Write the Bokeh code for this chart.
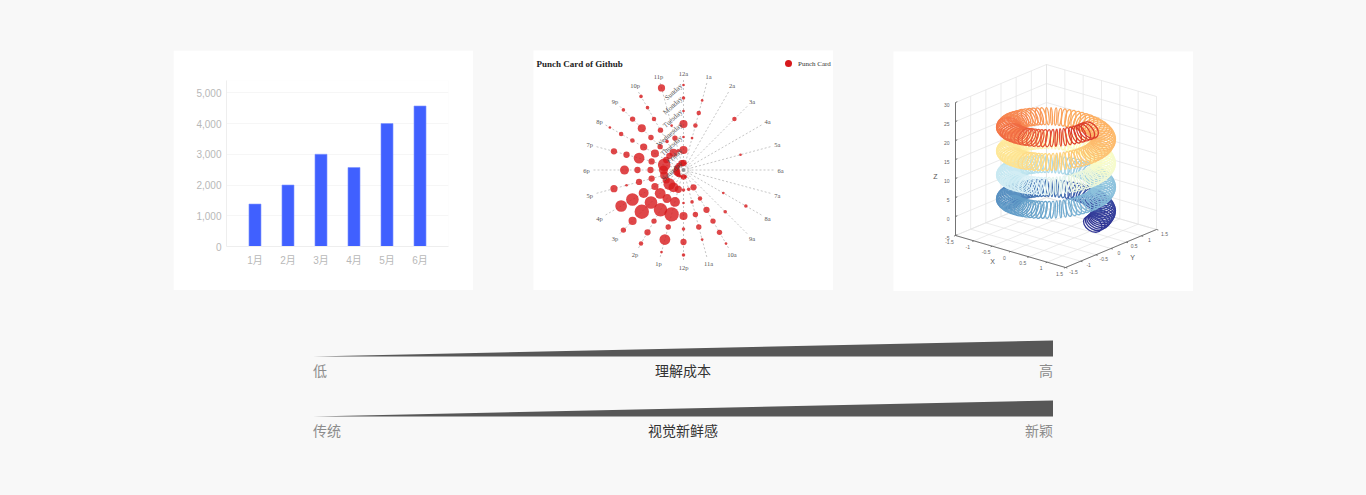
import math
from bokeh.plotting import figure
from bokeh.layouts import column, row
from bokeh.models import Spacer, Range1d, FixedTicker, NumeralTickFormatter, FactorRange
from bokeh.core.properties import value
from bokeh.embed import file_html
from bokeh.resources import INLINE

# ---------- bar chart ----------
months = ["1月", "2月", "3月", "4月", "5月", "6月"]
sales = [1380, 2000, 3000, 2570, 4000, 4570]
sales_ticks = [0, 1000, 2000, 3000, 4000, 5000]

# ---------- punch card ----------
hours = ["12a", "1a", "2a", "3a", "4a", "5a", "6a", "7a", "8a", "9a", "10a", "11a",
         "12p", "1p", "2p", "3p", "4p", "5p", "6p", "7p", "8p", "9p", "10p", "11p"]
days = ["Saturday", "Friday", "Thursday", "Wednesday", "Tuesday", "Monday", "Sunday"]
saturday = [5, 1, 0, 0, 0, 0, 0, 0, 0, 0, 0, 2, 4, 1, 1, 3, 4, 6, 4, 4, 3, 3, 2, 5]
friday = [7, 0, 0, 0, 0, 0, 0, 0, 0, 0, 5, 2, 2, 6, 9, 11, 6, 7, 8, 12, 5, 5, 7, 2]
thursday = [1, 1, 0, 0, 0, 0, 0, 0, 0, 0, 3, 2, 1, 9, 8, 10, 6, 5, 5, 5, 7, 4, 2, 4]
wednesday = [7, 3, 0, 0, 0, 0, 0, 0, 1, 0, 5, 4, 7, 14, 13, 12, 9, 5, 5, 10, 6, 4, 4, 1]
tuesday = [1, 3, 0, 0, 0, 1, 0, 0, 0, 2, 4, 4, 2, 4, 4, 14, 12, 1, 8, 5, 3, 7, 3, 0]
monday = [2, 1, 0, 3, 0, 0, 0, 0, 2, 0, 4, 1, 5, 10, 5, 7, 11, 6, 0, 5, 3, 4, 2, 0]
sunday = [1, 0, 0, 0, 0, 0, 0, 0, 0, 0, 1, 0, 2, 1, 3, 4, 0, 0, 0, 0, 1, 2, 2, 6]
punch = [saturday, friday, thursday, wednesday, tuesday, monday, sunday]

# ---------- 3D spring: axes ----------
xy_ticks = [-1.5, -1, -0.5, 0, 0.5, 1, 1.5]
xy_labels = ["-1.5", "-1", "-0.5", "0", "0.5", "1", "1.5"]
z_ticks = [-5, 0, 5, 10, 15, 20, 25, 30]

# Coil centres (one turn of the spring, in page pixels)
coil_x = [1092.2, 1094.7, 1096.9, 1098.8, 1100.3, 1101.6, 1102.4, 1102.9, 1103.1, 1102.9, 1102.3, 1101.4,
          1100.1, 1098.5, 1096.6, 1094.3, 1091.7, 1088.9, 1085.8, 1082.5, 1079.0, 1075.3, 1071.5, 1067.5,
          1063.4, 1059.3, 1055.2, 1051.0, 1046.9, 1042.9, 1038.9, 1035.1, 1031.4, 1027.9, 1024.7, 1021.6,
          1018.8, 1016.3, 1014.1, 1012.2, 1010.7, 1009.4, 1008.6, 1008.1, 1007.9, 1008.1, 1008.7, 1009.6,
          1010.9, 1012.5, 1014.4, 1016.7, 1019.3, 1022.1, 1025.2, 1028.5, 1032.0, 1035.7, 1039.5, 1043.5,
          1047.6, 1051.7, 1055.8, 1060.0, 1064.1, 1068.1, 1072.1, 1075.9, 1079.6, 1083.1, 1086.3, 1089.4]
coil_y = [223.7, 222.2, 220.6, 219.0, 217.4, 215.6, 213.9, 212.2, 210.3, 208.6, 206.9, 205.0,
          203.4, 201.7, 200.0, 198.5, 197.1, 195.7, 194.3, 193.2, 192.0, 191.0, 190.1, 189.4,
          188.7, 188.2, 187.8, 187.5, 187.4, 187.4, 187.5, 187.7, 188.1, 188.5, 189.0, 189.7,
          190.4, 191.2, 192.1, 193.1, 194.0, 195.1, 196.2, 197.2, 198.4, 199.5, 200.5, 201.7,
          202.7, 203.8, 204.7, 205.6, 206.4, 207.1, 207.8, 208.3, 208.7, 209.1, 209.4, 209.4,
          209.4, 209.3, 209.0, 208.6, 208.1, 207.4, 206.7, 205.8, 204.8, 203.6, 202.5, 201.2]
# Apparent size and tilt of a coil, half a turn (the other half looks the same)
coil_w = [20.2, 21.0, 21.9, 22.4, 22.8, 23.2, 23.5, 23.7, 23.8, 23.8, 23.4, 23.0,
          22.5, 22.0, 21.3, 20.7, 20.1, 19.4, 18.8, 18.4, 18.0, 17.7, 17.5, 17.4,
          17.3, 17.3, 17.3, 17.3, 17.3, 17.4, 17.6, 17.8, 18.1, 18.6, 19.1, 19.6]
coil_h = [13.9, 14.2, 14.6, 14.8, 15.0, 15.0, 15.1, 15.2, 15.2, 15.2, 15.1, 15.0,
          15.0, 14.9, 14.6, 14.2, 13.7, 13.0, 12.4, 11.2, 9.8, 8.2, 6.8, 5.5,
          4.4, 3.3, 2.3, 1.9, 3.0, 4.8, 6.6, 8.5, 10.2, 11.5, 12.5, 13.3]
coil_tilt = [34, 29, 23, 18, 13, 8, 6, 3, 0, -3, -7, -11,
             -14, -18, -24, -30, -37, -44, -51, -57, -64, -70, -75, -79,
             -82, -84, -87, 87, 83, 78, 73, 69, 63, 57, 49, 42]
# How far each turn sits above the first, and its colours around the turn
turn_rise = [0, 23.9, 47.8, 71.7]
turn_colors = [
    ["#313695", "#353f9b", "#3a4fa3", "#3e5fab", "#4270b1", "#4575b4",
     "#4f85bc", "#5a92c2", "#639dc8", "#6ba5cc", "#72abd0", "#7eb5d6"],
    ["#84bad9", "#8dc2dd", "#97cbe0", "#a1d1e4", "#abd9e9", "#b5dfec",
     "#bfe5ef", "#c9e9f2", "#d2edf4", "#dcf1f7", "#e3f4ee", "#eaf6df"],
    ["#f0f8d6", "#f6fbcc", "#fbfdc3", "#ffffbf", "#fff9b6", "#fff3ac",
     "#ffeda3", "#fee89a", "#fee391", "#fedb86", "#fed27c", "#fdca78"],
    ["#fdc374", "#fdbb6d", "#fdb366", "#fdac60", "#fba25c", "#f99558",
     "#f78751", "#f5794a", "#f06b42", "#e95c3a", "#e34d33", "#dc3e2c"],
]

# ---------- wedges ----------
wedge_pos = [0, 1]
wedge_size = [0, 16]
wedge_rows = [("低", "理解成本", "高"), ("传统", "视觉新鲜感", "新颖")]

SANS = "Liberation Sans, Noto Sans CJK SC"
SERIF = "Liberation Serif"
CJK = "Noto Sans CJK SC"


def panel(w, h, xr, yr, fill="#ffffff"):
    p = figure(width=w, height=h, x_range=xr, y_range=yr, output_backend="svg", toolbar_location=None,
               x_axis_type=None, y_axis_type=None, min_border=0)
    p.background_fill_color = fill
    p.border_fill_color = fill
    p.outline_line_color = None
    p.grid.visible = False
    return p


# ---- bar chart panel ----
f1 = figure(width=300, height=240, x_range=FactorRange(*months, range_padding=0.121),
            y_range=Range1d(0, 5400), output_backend="svg", toolbar_location=None,
            min_border_left=53, min_border_right=25, min_border_top=30, min_border_bottom=44)
f1.background_fill_color = "#ffffff"
f1.border_fill_color = "#ffffff"
f1.outline_line_color = None
f1.vbar(x=months, top=sales, width=0.364, color="#4060ff", line_color="#7f95ff", line_width=0.6)
f1.xgrid.visible = False
f1.ygrid.grid_line_color = "#f6f6f6"
f1.ygrid.ticker = FixedTicker(ticks=sales_ticks)
f1.yaxis.ticker = FixedTicker(ticks=sales_ticks)
f1.yaxis.formatter = NumeralTickFormatter(format="0,0")
for ax in (f1.xaxis, f1.yaxis):
    ax.axis_line_color = "#eeeeee"
    ax.major_tick_line_color = None
    ax.minor_tick_line_color = None
    ax.major_tick_out = 0
    ax.major_tick_in = 0
    ax.minor_tick_out = 0
    ax.major_label_text_color = "#b8b8b8"
    ax.major_label_text_font = SANS
    ax.major_label_text_font_size = "10px"
f1.yaxis.major_label_standoff = 5
f1.xaxis.major_label_standoff = 8

# ---- punch card panel ----
f2 = panel(300, 240, Range1d(-150, 150), Range1d(-120.5, 119.5))


def ring_radius(d):
    return 7 + 13 * d


def polar(r, h):
    a = math.radians(h * 15)
    return r * math.sin(a), r * math.cos(a)


spoke_xs, spoke_ys = [], []
for h, name in enumerate(hours):
    x, y = polar(92, h)
    spoke_xs.append([0, x])
    spoke_ys.append([0, y])
f2.multi_line(spoke_xs, spoke_ys, line_color="#b8b8b8", line_width=0.8, line_dash="2 2")
f2.scatter([0], [0], size=14, marker="circle", fill_alpha=0, line_color="#c4c4c4", line_width=0.7, line_dash="1 1")
f2.scatter([0], [0], size=8, marker="circle", fill_alpha=0, line_color="#c4c4c4", line_width=0.7, line_dash="1 1")
f2.scatter([0], [0], size=3.5, marker="circle", color="#8f8f8f", line_width=0)
px, py, ps = [], [], []
for d, vals in enumerate(punch):
    for h, v in enumerate(vals):
        if v > 0:
            x, y = polar(ring_radius(d), h)
            px.append(x)
            py.append(y)
            ps.append(v * 0.9 + 1.8)
f2.scatter(px, py, size=ps, marker="circle", color="#d7191c", alpha=0.8, line_width=0)
lx, ly = zip(*[polar(97, h) for h in range(24)])
f2.text(lx, ly, text=hours, text_font=value(SERIF), text_font_size="6.5px", text_color="#555555",
        text_align="center", text_baseline="middle")
f2.text([-2] * 7, [ring_radius(d) for d in range(7)], text=days, angle=42, angle_units="deg",
        text_font=value(SERIF), text_font_size="7px", text_color="#555555",
        text_align="right", text_baseline="middle")
f2.text([-147], [106], text=["Punch Card of Github"], text_font=value(SERIF), text_font_size="9px",
        text_font_style="bold", text_color="#222222", text_baseline="middle")
f2.scatter([105], [106.5], size=7, marker="circle", color="#d7191c", line_width=0)
f2.text([114.5], [106.5], text=["Punch Card"], text_font=value(SERIF), text_font_size="7px",
        text_color="#333333", text_baseline="middle")

# ---- 3D spring panel ----
f3 = panel(300, 240, Range1d(893, 1193), Range1d(291, 51))


def project(X, Y, Z):
    sx = 955 + (X + 1.5) / 3 * 110 + (Y + 1.5) / 3 * 91
    sy = 235 + (X + 1.5) / 3 * 32 - (Y + 1.5) / 3 * 38 - (Z + 5) * 3.8
    return sx, sy


def path(points):
    pts = [project(*q) for q in points]
    return [a for a, _ in pts], [b for _, b in pts]


lo, hi, zb, zt = xy_ticks[0], xy_ticks[-1], z_ticks[0], z_ticks[-1]
gx, gy = [], []
for t in xy_ticks:
    a, b = path([(t, lo, zb), (t, hi, zb), (t, hi, zt)])
    gx.append(a); gy.append(b)
    a, b = path([(lo, t, zt), (lo, t, zb), (hi, t, zb)])
    gx.append(a); gy.append(b)
for z in z_ticks:
    a, b = path([(lo, lo, z), (lo, hi, z), (hi, hi, z)])
    gx.append(a); gy.append(b)
f3.multi_line(gx, gy, line_color="#e2e2e2", line_width=0.7)

ax_x, ax_y = [], []
for pts in ([(lo, lo, zb), (lo, lo, zt)], [(lo, lo, zb), (hi, lo, zb)], [(hi, lo, zb), (hi, hi, zb)]):
    a, b = path(pts)
    ax_x.append(a); ax_y.append(b)
for t in xy_ticks:
    a, b = path([(t, lo, zb), (t, lo - 0.05, zb)])
    ax_x.append(a); ax_y.append(b)
    a, b = path([(hi, t, zb), (hi + 0.05, t, zb)])
    ax_x.append(a); ax_y.append(b)
for z in z_ticks:
    a, b = path([(lo, lo, z), (lo, lo + 0.06, z)])
    ax_x.append(a); ax_y.append(b)
f3.multi_line(ax_x, ax_y, line_color="#666666", line_width=0.9)

for k, rise in enumerate(turn_rise):
    n = len(coil_x)
    cols = [turn_colors[k][i * 12 // n] for i in range(n)]
    f3.ellipse(x=coil_x, y=[v - rise for v in coil_y],
               width=coil_w * 2, height=coil_h * 2,
               angle=[math.radians(-a) for a in coil_tilt * 2],
               fill_alpha=0, line_color=cols, line_width=1.3)

tick_style = dict(text_font=value("Liberation Sans"), text_font_size="5px", text_color="#666666",
                  text_baseline="middle")
xt = [project(t, lo, zb) for t in xy_ticks]
f3.text([a - 6 for a, _ in xt], [b + 6 for _, b in xt], text=xy_labels, text_align="center", **tick_style)
yt = [project(hi, t, zb) for t in xy_ticks]
f3.text([a + 8 for a, _ in yt], [b + 4 for _, b in yt], text=xy_labels, text_align="center", **tick_style)
zt_pts = [project(lo, lo, z) for z in z_ticks]
f3.text([a - 6 for a, _ in zt_pts], [b + 2 for _, b in zt_pts], text=[str(z) for z in z_ticks],
        text_align="right", **tick_style)
name_style = dict(text_font=value("Liberation Sans"), text_font_size="7px", text_color="#555555",
                  text_align="center", text_baseline="middle")
f3.text([992], [261], text=["X"], **name_style)
f3.text([1132], [257], text=["Y"], **name_style)
f3.text([935], [176], text=["Z"], **name_style)

# ---- wedges panel ----
f4 = panel(766, 110, Range1d(-12.5 / 740, 753.5 / 740), Range1d(-89, 21), fill="#f8f8f8")
for i, (left, mid, right) in enumerate(wedge_rows):
    base = -60 * i
    f4.varea(x=wedge_pos, y1=[base, base], y2=[base + s for s in wedge_size], color="#575757")
    txt = dict(text_font=value(CJK), text_font_size="14px", text_baseline="middle")
    f4.text([0], [base - 13], text=[left], text_align="left", text_color="#8c8c8c", **txt)
    f4.text([0.5], [base - 13], text=[mid], text_align="center", text_color="#333333", **txt)
    f4.text([1], [base - 13], text=[right], text_align="right", text_color="#8c8c8c", **txt)

root = column(
    Spacer(width=10, height=50),
    row(Spacer(width=173, height=10), column(f1), Spacer(width=60, height=10), column(f2), Spacer(width=60, height=10),
        column(Spacer(width=10, height=1), f3)),
    Spacer(width=10, height=44),
    row(Spacer(width=300, height=10), f4),
)

html = file_html(root, INLINE)
html = html.replace("<head>", "<head><style>html,body{background:#f8f8f8}</style>", 1)
open("out.html", "w").write(html)
